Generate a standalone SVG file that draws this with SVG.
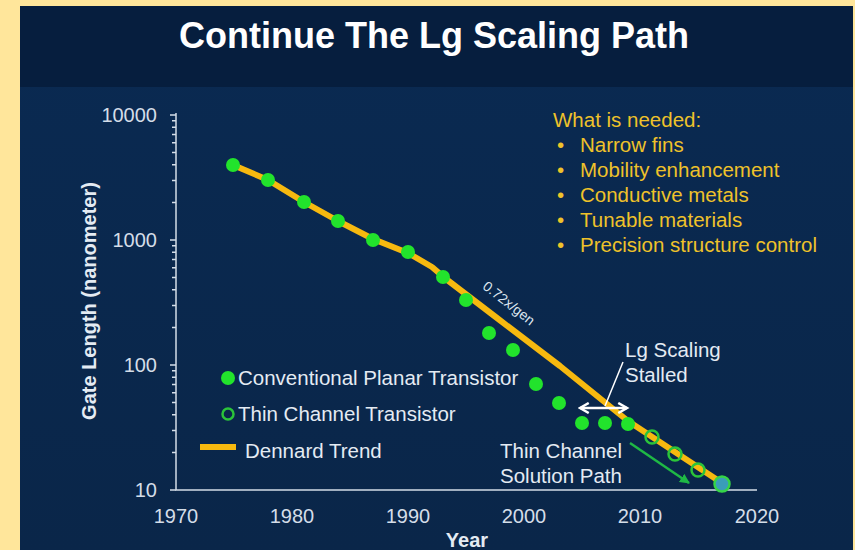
<svg xmlns="http://www.w3.org/2000/svg" width="855" height="550" viewBox="0 0 855 550">
<defs>
<style>
.t{font-family:"Liberation Sans",Arial,sans-serif;}
.lbl{font-family:"Liberation Sans",Arial,sans-serif;font-size:20.5px;fill:#E4EBF3;}
.tick{font-family:"Liberation Sans",Arial,sans-serif;font-size:20px;fill:#D4DDE8;}
.need{font-family:"Liberation Sans",Arial,sans-serif;font-size:20.5px;fill:#EFC22A;}
.axis{stroke:#D4DDE8;stroke-width:1.5;fill:none;}
.cp{fill:#22E32C;}
.tc{fill:none;stroke:#2BC43A;stroke-width:2.5;}
</style>
<linearGradient id="bg" x1="0" y1="0" x2="0" y2="1">
<stop offset="0" stop-color="#0A2A52"/>
<stop offset="1" stop-color="#0A2649"/>
</linearGradient>
<marker id="wh" viewBox="0 0 10 10" refX="8" refY="5" markerWidth="5" markerHeight="5" orient="auto-start-reverse" markerUnits="strokeWidth">
<path d="M1,1 L8,5 L1,9" fill="none" stroke="#FFFFFF" stroke-width="2"/>
</marker>
<marker id="gh" viewBox="0 0 10 10" refX="9" refY="5" markerWidth="4" markerHeight="4" orient="auto" markerUnits="strokeWidth">
<path d="M0,0 L10,5 L0,10 Z" fill="#1FB845"/>
</marker>
</defs>
<rect x="0" y="0" width="855" height="550" fill="#FFE69B"/>
<rect x="20" y="6" width="833" height="544" fill="url(#bg)"/>
<rect x="20" y="6" width="833" height="81" fill="#061E3E"/>
<text class="t" x="434" y="48" text-anchor="middle" font-size="36" font-weight="bold" fill="#FFFFFF">Continue The Lg Scaling Path</text>

<g id="axes">
<path class="axis" d="M176,113 V490 H757"/>
<path class="axis" d="M170,115 H176 M170,240 H176 M170,365 H176 M170,490 H176
M172,202.4 H176 M172,180.4 H176 M172,164.8 H176 M172,152.6 H176 M172,142.7 H176 M172,134.4 H176 M172,127.2 H176 M172,120.7 H176
M172,327.4 H176 M172,305.4 H176 M172,289.8 H176 M172,277.6 H176 M172,267.7 H176 M172,259.4 H176 M172,252.2 H176 M172,245.7 H176
M172,452.4 H176 M172,430.4 H176 M172,414.8 H176 M172,402.6 H176 M172,392.7 H176 M172,384.4 H176 M172,377.2 H176 M172,370.7 H176"/>
<text class="tick" x="157" y="122" text-anchor="end">10000</text>
<text class="tick" x="157" y="247" text-anchor="end">1000</text>
<text class="tick" x="157" y="372" text-anchor="end">100</text>
<text class="tick" x="157" y="497" text-anchor="end">10</text>
<text class="tick" x="176" y="523" text-anchor="middle">1970</text>
<text class="tick" x="292" y="523" text-anchor="middle">1980</text>
<text class="tick" x="408" y="523" text-anchor="middle">1990</text>
<text class="tick" x="524" y="523" text-anchor="middle">2000</text>
<text class="tick" x="640" y="523" text-anchor="middle">2010</text>
<text class="tick" x="757" y="523" text-anchor="middle">2020</text>
<text class="t" x="467" y="547" text-anchor="middle" font-size="20" font-weight="bold" fill="#E4EBF3">Year</text>
<text class="t" x="96" y="301" text-anchor="middle" font-size="20" font-weight="bold" fill="#E4EBF3" transform="rotate(-90 96 301)">Gate Length (nanometer)</text>
</g>

<g id="dennard-trend">
<path d="M233,165 L268,180 L304,202 L338,221 L373,239 L408,253 L432,267 L446,279 L497,318 L560,366 L628,421 L722,483" fill="none" stroke="#F7B90F" stroke-width="6" stroke-linejoin="round" stroke-linecap="round"/>
<text class="t" x="506" y="307" text-anchor="middle" font-size="14" fill="#DCE5EF" transform="rotate(38 506 307)">0.72x/gen</text>
</g>

<g id="planar-points">
<circle class="cp" cx="233" cy="165" r="7"/>
<circle class="cp" cx="268" cy="180" r="7"/>
<circle class="cp" cx="304" cy="202" r="7"/>
<circle class="cp" cx="338" cy="221" r="7"/>
<circle class="cp" cx="373" cy="240" r="7"/>
<circle class="cp" cx="408" cy="252" r="7"/>
<circle class="cp" cx="443" cy="277" r="7"/>
<circle class="cp" cx="466" cy="300" r="7"/>
<circle class="cp" cx="489" cy="333" r="7"/>
<circle class="cp" cx="513" cy="350" r="7"/>
<circle class="cp" cx="536" cy="384" r="7"/>
<circle class="cp" cx="559" cy="403" r="7"/>
<circle class="cp" cx="582" cy="423" r="7"/>
<circle class="cp" cx="605" cy="423" r="7"/>
<circle class="cp" cx="628" cy="424" r="7"/>
</g>

<g id="thin-channel-points">
<circle class="tc" cx="652" cy="437" r="6.5"/>
<circle class="tc" cx="675" cy="454" r="6.5"/>
<circle class="tc" cx="698" cy="470" r="6.5"/>
<circle cx="722" cy="484" r="7.5" fill="#3A9DB8" stroke="#35D447" stroke-width="2.5"/>
</g>

<g id="legend">
<circle class="cp" cx="228" cy="378" r="7"/>
<text class="lbl" x="238" y="385">Conventional Planar Transistor</text>
<circle class="tc" cx="228" cy="414" r="5.5"/>
<text class="lbl" x="238" y="421">Thin Channel Transistor</text>
<rect x="200" y="444" width="36" height="6" fill="#F7B90F"/>
<text class="lbl" x="245" y="458">Dennard Trend</text>
</g>

<g id="needs">
<text class="need" x="553" y="127">What is needed:</text>
<text class="need" x="557" y="152">•</text><text class="need" x="580" y="152">Narrow fins</text>
<text class="need" x="557" y="177">•</text><text class="need" x="580" y="177">Mobility enhancement</text>
<text class="need" x="557" y="202">•</text><text class="need" x="580" y="202">Conductive metals</text>
<text class="need" x="557" y="227">•</text><text class="need" x="580" y="227">Tunable materials</text>
<text class="need" x="557" y="252">•</text><text class="need" x="580" y="252">Precision structure control</text>
</g>

<g id="connectors">
<line x1="580" y1="408" x2="627" y2="408" stroke="#FFFFFF" stroke-width="2.5" marker-start="url(#wh)" marker-end="url(#wh)"/>
<line x1="623" y1="362" x2="605" y2="406" stroke="#FFFFFF" stroke-width="1.5"/>
<line x1="630" y1="443" x2="689" y2="483" stroke="#1FB845" stroke-width="2.5" marker-end="url(#gh)"/>
</g>

<g id="annotations">
<text class="lbl" x="625" y="357">Lg Scaling</text>
<text class="lbl" x="625" y="382">Stalled</text>
<text class="lbl" x="500" y="458">Thin Channel</text>
<text class="lbl" x="500" y="483">Solution Path</text>
</g>
</svg>
